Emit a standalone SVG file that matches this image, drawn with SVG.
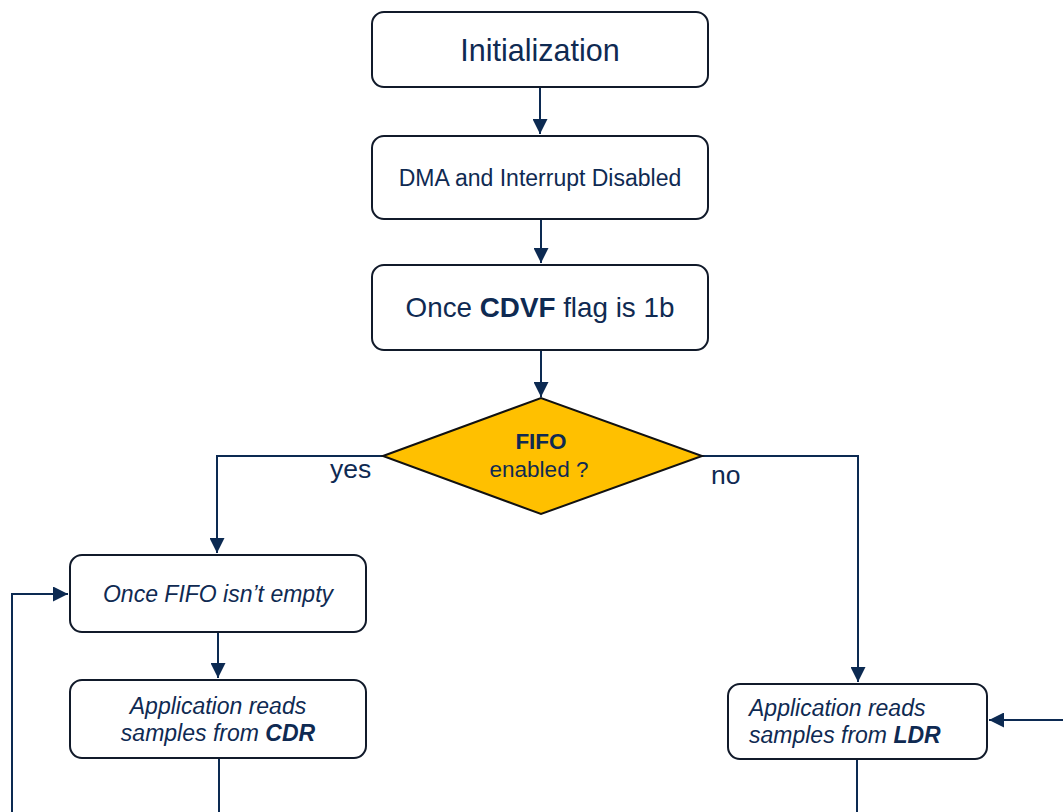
<svg xmlns="http://www.w3.org/2000/svg" width="1063" height="812" viewBox="0 0 1063 812">
<defs>
<marker id="ah" viewBox="0 0 10 10" refX="10" refY="5" markerWidth="15" markerHeight="15" markerUnits="userSpaceOnUse" orient="auto">
<path d="M0,0 L10,5 L0,10 Z" fill="#0C2A52"/>
</marker>
<style>
.box{fill:#fff;stroke:#111a2a;stroke-width:2}
.t{font-family:"Liberation Sans",Arial,sans-serif;fill:#0F2A52}
.c{fill:none;stroke:#0C2A52;stroke-width:2}
</style>
</defs>
<rect width="1063" height="812" fill="#fff"/>
<g id="connectors">
<path class="c" d="M540,87 V134" marker-end="url(#ah)"/>
<path class="c" d="M541,219 V263" marker-end="url(#ah)"/>
<path class="c" d="M541,350 V397" marker-end="url(#ah)"/>
<path class="c" d="M383,456 H217 V553" marker-end="url(#ah)"/>
<path class="c" d="M702,456 H858 V682" marker-end="url(#ah)"/>
<path class="c" d="M218,632 V678" marker-end="url(#ah)"/>
<path class="c" d="M219,758 V812"/>
<path class="c" d="M12,812 V594 H68" marker-end="url(#ah)"/>
<path class="c" d="M857,759 V812"/>
<path class="c" d="M1063,720 H989" marker-end="url(#ah)"/>
<text class="t" x="330" y="478" font-size="26.5">yes</text>
<text class="t" x="711" y="484" font-size="26.5">no</text>
</g>
<g id="n1">
<rect class="box" x="372" y="12" width="336" height="75" rx="12"/>
<text class="t" x="540" y="61" font-size="30.5" text-anchor="middle">Initialization</text>
</g>
<g id="n2">
<rect class="box" x="372" y="136" width="336" height="83" rx="12"/>
<text class="t" x="540" y="186" font-size="23" text-anchor="middle">DMA and Interrupt Disabled</text>
</g>
<g id="n3">
<rect class="box" x="372" y="265" width="336" height="85" rx="12"/>
<text class="t" x="540" y="317" font-size="27.8" text-anchor="middle">Once <tspan font-weight="bold">CDVF</tspan> flag is 1b</text>
</g>
<g id="n4">
<polygon points="383,456 541,398 702,456 541,514" fill="#FFC000" stroke="#111" stroke-width="2"/>
<text class="t" x="541" y="449" font-size="22.5" font-weight="bold" text-anchor="middle">FIFO</text>
<text class="t" x="539" y="477" font-size="22.5" text-anchor="middle">enabled ?</text>
</g>
<g id="n5">
<rect class="box" x="70" y="555" width="296" height="77" rx="12"/>
<text class="t" x="218" y="602" font-size="23" font-style="italic" text-anchor="middle">Once FIFO isn’t empty</text>
</g>
<g id="n6">
<rect class="box" x="70" y="680" width="296" height="78" rx="12"/>
<text class="t" x="218" y="714" font-size="23" font-style="italic" text-anchor="middle">Application reads</text>
<text class="t" x="218" y="741" font-size="23" font-style="italic" text-anchor="middle">samples from <tspan font-weight="bold">CDR</tspan></text>
</g>
<g id="n7">
<rect class="box" x="728" y="684" width="259" height="75" rx="12"/>
<text class="t" x="749" y="716" font-size="23" font-style="italic">Application reads</text>
<text class="t" x="749" y="743" font-size="23" font-style="italic">samples from <tspan font-weight="bold">LDR</tspan></text>
</g>
</svg>
